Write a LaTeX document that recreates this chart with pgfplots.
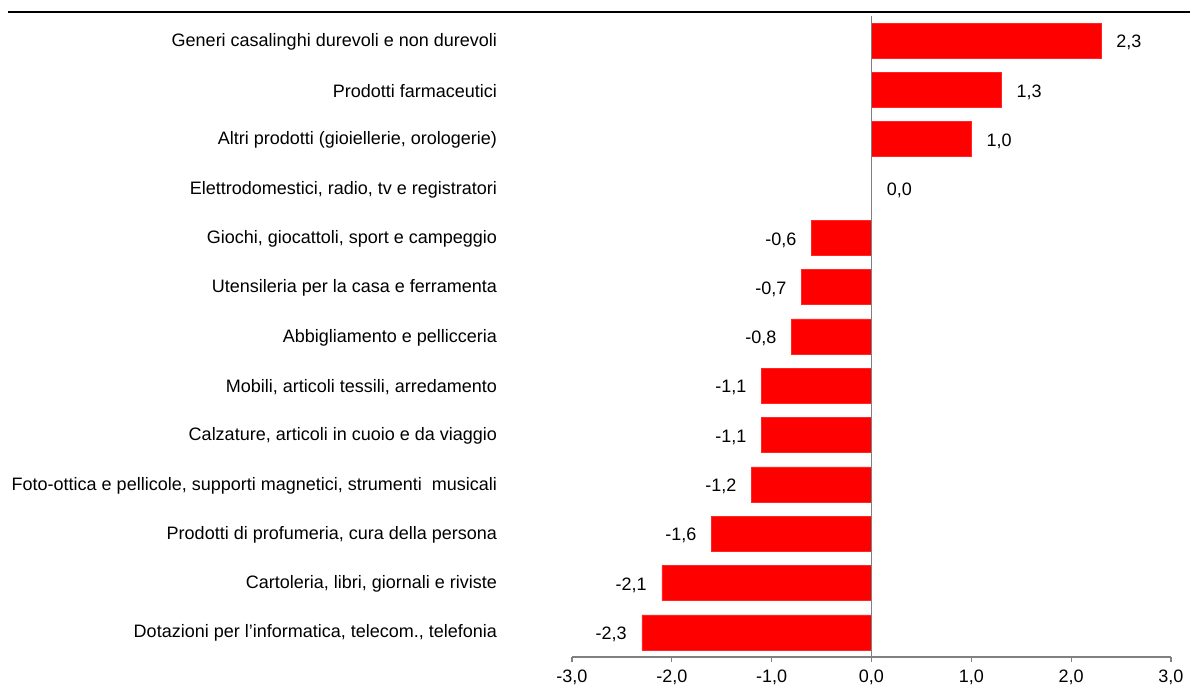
\documentclass[border=0pt]{standalone}
\usepackage{fontspec}
\setmainfont{Liberation Sans}
\usepackage{pgfplots}
\pgfplotsset{compat=1.18}
\definecolor{axgray}{RGB}{128,128,128}
\definecolor{barred}{RGB}{255,0,0}
\begin{document}
\begin{tikzpicture}
\path[use as bounding box] (-286pt,-16.5pt) rectangle (309pt,328.5pt);
\draw[line width=1.1pt] (-282pt,322.5pt) -- (309pt,322.5pt);
\begin{axis}[
  at={(0pt,0pt)}, anchor=south west,
  scale only axis, width=299.5pt, height=320.5pt,
  xbar, bar width=17.5pt,
  xmin=-3, xmax=3, ymin=-0.5, ymax=12.5,
  xtick={-3,-2,-1,0,1,2,3},
  ytick={0,1,2,3,4,5,6,7,8,9,10,11,12},
  yticklabels={
    {Dotazioni per l’informatica, telecom., telefonia},
    {Cartoleria, libri, giornali e riviste},
    {Prodotti di profumeria, cura della persona},
    {Foto-ottica e pellicole, supporti magnetici, strumenti\ \ musicali},
    {Calzature, articoli in cuoio e da viaggio},
    {Mobili, articoli tessili, arredamento},
    {Abbigliamento e pellicceria},
    {Utensileria per la casa e ferramenta},
    {Giochi, giocattoli, sport e campeggio},
    {Elettrodomestici, radio, tv e registratori},
    {Altri prodotti (gioiellerie, orologerie)},
    {Prodotti farmaceutici},
    {Generi casalinghi durevoli e non durevoli}},
  axis x line*=bottom, axis y line*=left,
  x axis line style={axgray, line width=0.6pt, -},
  y axis line style={draw=none},
  ytick style={draw=none},
  xtick style={axgray, line width=0.6pt},
  tick align=outside, major tick length=2.5pt,
  /pgf/number format/.cd, fixed, fixed zerofill, precision=1, use comma, assume math mode=true,
  /pgfplots/.cd,
  tick label style={font=\fontsize{9}{10}\selectfont, black},
  yticklabel style={anchor=east, xshift=-31.5pt, yshift=-0.5pt},
  xticklabel style={yshift=-0.5pt},
  nodes near coords,
  every node near coord/.append style={font=\fontsize{9}{10}\selectfont, black, inner xsep=7.5pt, yshift=-1pt},
]
\addplot[fill=barred, draw=barred!85!white, line width=0.3pt] coordinates {
  (-2.3,0) (-2.1,1) (-1.6,2) (-1.2,3) (-1.1,4) (-1.1,5) (-0.8,6)
  (-0.7,7) (-0.6,8) (0.0,9) (1.0,10) (1.3,11) (2.3,12)
};
\draw[axgray, line width=0.8pt] (axis cs:0,-0.5) -- (axis cs:0,12.5);
\end{axis}
\end{tikzpicture}
\end{document}
